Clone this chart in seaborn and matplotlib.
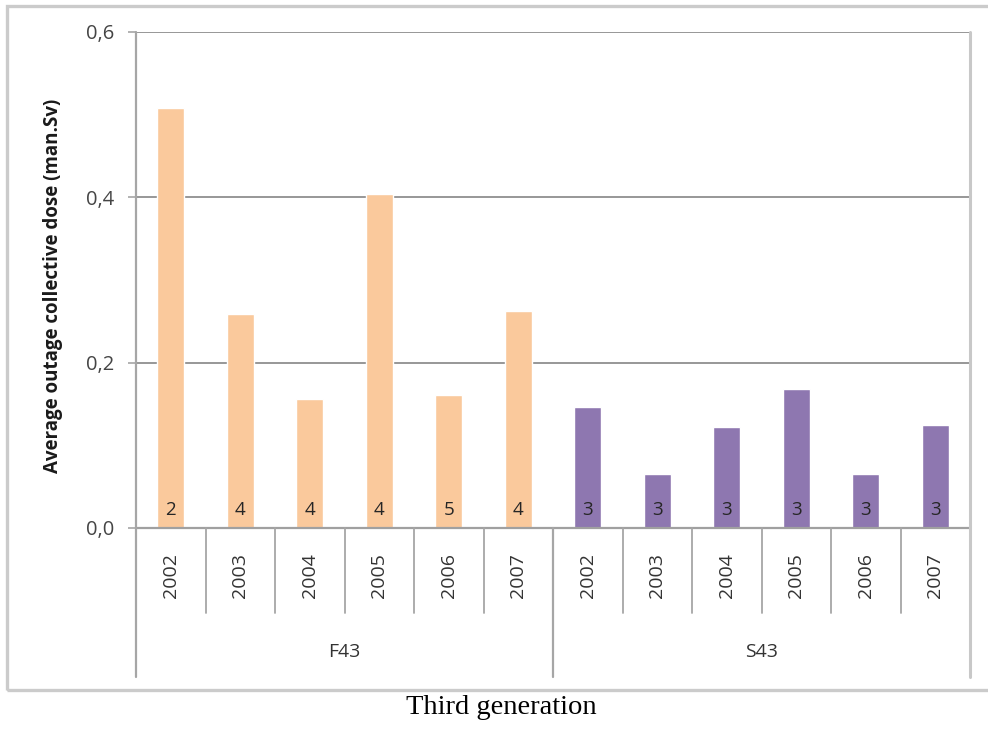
import matplotlib
matplotlib.use("Agg")
import matplotlib.pyplot as plt
from matplotlib.patches import Rectangle
import pandas as pd
import seaborn as sns

# Outage collective dose per reactor series and year
years = ["2002", "2003", "2004", "2005", "2006", "2007"]
groups = ["F43", "S43"]
f43_dose = [0.508, 0.259, 0.156, 0.404, 0.161, 0.262]
s43_dose = [0.146, 0.065, 0.122, 0.168, 0.065, 0.125]
f43_outages = [2, 4, 4, 4, 5, 4]
s43_outages = [3, 3, 3, 3, 3, 3]
y_ticks = [0.0, 0.2, 0.4, 0.6]
y_tick_labels = ["0,0", "0,2", "0,4", "0,6"]

colors = {"F43": "#FAC99C", "S43": "#8E77B0"}

df = pd.DataFrame({
    "group": ["F43"] * len(years) + ["S43"] * len(years),
    "year": years + years,
    "dose": f43_dose + s43_dose,
    "n": f43_outages + s43_outages,
})
df["key"] = df["group"] + " " + df["year"]

sns.set_theme(style="white")
plt.rcParams["font.family"] = ["Open Sans", "DejaVu Sans"]

W, H = 988, 729
fig = plt.figure(figsize=(W / 100, H / 100), dpi=100)

# outer chart frame (its right side runs past the image edge)
fig.patches.append(Rectangle((7 / W, 1 - 690 / H), 1.2, (690 - 6) / H,
                             transform=fig.transFigure, fill=False,
                             edgecolor="#cbcbcb", linewidth=2.4, zorder=0))

left, right, top, base = 136, 970, 32, 528
ax = fig.add_axes([left / W, 1 - base / H, (right - left) / W, (base - top) / H])

sns.barplot(data=df, x="key", y="dose", hue="group", palette=colors,
            order=list(df["key"]), dodge=False, width=0.39, legend=False,
            saturation=1, ax=ax)

ax.set_ylim(0, 0.6)
ax.set_xlim(-0.5, len(df) - 0.5)
ax.set_yticks(y_ticks)
ax.set_yticklabels(y_tick_labels)
ax.set_xlabel("")
ax.set_ylabel("")

for s in ax.spines.values():
    s.set_visible(False)

ax.yaxis.grid(True, color="#8f8f8f", linewidth=1.3)
ax.set_axisbelow(True)
ax.tick_params(axis="y", length=6, width=1.2, color="#a6a6a6", pad=10,
               labelsize=14.5, labelcolor="#454545", left=True)
ax.tick_params(axis="x", length=0, pad=18, labelsize=14, labelcolor="#333333")
ax.set_xticks(range(len(df)))
ax.set_xticklabels(df["year"], rotation=90, va="top", ha="center")

axh = base - top
lower_short = -(613 - base) / axh
lower_long = -(677 - base) / axh
xt = ax.get_xaxis_transform()

# category axis line and separators
ax.plot([-0.5, len(df) - 0.5], [0, 0], transform=xt, color="#a0a0a0",
        linewidth=1.6, clip_on=False, zorder=3)
for k in range(len(df) + 1):
    x = k - 0.5
    if k % len(years) == 0:
        col = "#a6a6a6" if k < len(df) else "#c8c8c8"
        lw = 1.6 if k < len(df) else 2.2
        y_top = 1.0 if k in (0, len(df)) else 0.0
        ax.plot([x, x], [lower_long, y_top], transform=xt, color=col,
                linewidth=lw, clip_on=False, zorder=3)
    else:
        ax.plot([x, x], [lower_short, 0], transform=xt, color="#a6a6a6",
                linewidth=1.3, clip_on=False, zorder=3)

# group labels
for gi, g in enumerate(groups):
    ax.text(gi * len(years) + (len(years) - 1) / 2, -(652 - base) / axh, g,
            transform=xt, ha="center", va="center", fontsize=14,
            color="#333333")

# number of outages inside each bar
for i, n in enumerate(df["n"]):
    ax.text(i, 0.022, str(n), ha="center", va="center", fontsize=13.5,
            color="#262626")

fig.text(53 / W, 1 - 286 / H, "Average outage collective dose (man.Sv)",
         rotation=90, ha="center", va="center", fontsize=13.5,
         fontweight="bold", color="#1a1a1a")

fig.text(501 / W, 1 - 708 / H, "Third generation", ha="center", va="center",
         fontsize=20.5, family="Liberation Serif", color="black")

fig.savefig("out.png", dpi=100)
